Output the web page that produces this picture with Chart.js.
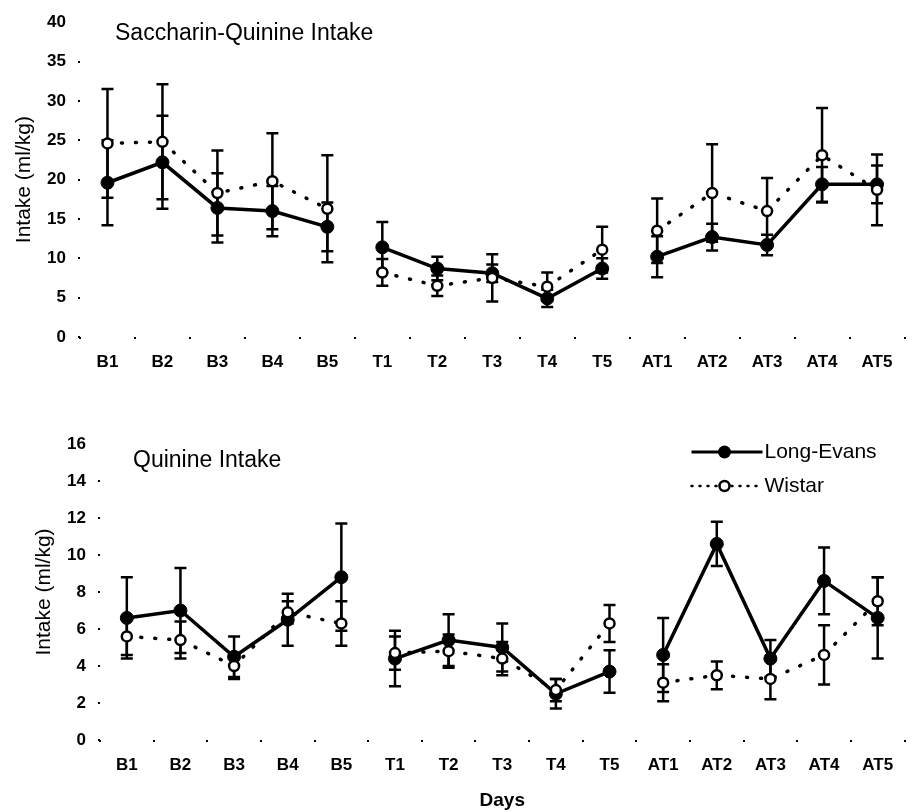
<!DOCTYPE html>
<html>
<head>
<meta charset="utf-8">
<script src="https://cdn.jsdelivr.net/npm/chart.js@4.4.1/dist/chart.umd.min.js"></script>
<style>
  html, body { margin: 0; padding: 0; background: #fff; overflow: hidden; }
  .panel { position: absolute; left: 0; width: 912px; }
  #topPanel { top: 0; height: 390px; }
  #bottomPanel { top: 400px; height: 412px; }
</style>
</head>
<body>
<div class="panel" id="topPanel"><canvas id="sqChart"></canvas></div>
<div class="panel" id="bottomPanel"><canvas id="qChart"></canvas></div>
<script>
// days on the x axis
const days = ['B1','B2','B3','B4','B5','T1','T2','T3','T4','T5','AT1','AT2','AT3','AT4','AT5'];

// Saccharin-quinine intake (ml/kg), mean and error
const sqLongEvans    = [19.6, 22.2, 16.4, 16.0, 14.0, 11.4, 8.7, 8.1, 4.9, 8.7, 10.2, 12.7, 11.7, 19.4, 19.4];
const sqLongEvansErr = [5.4, 5.9, 4.4, 3.2, 3.1, 3.2, 1.5, 1.1, 1.1, 1.3, 2.6, 1.7, 1.3, 2.2, 2.4];
const sqWistar       = [24.6, 24.8, 18.3, 19.8, 16.3, 8.2, 6.5, 7.5, 6.4, 11.1, 13.5, 18.3, 16.0, 23.1, 18.7];
const sqWistarErr    = [6.9, 7.3, 5.4, 6.1, 6.8, 1.7, 1.3, 3.0, 1.8, 2.9, 4.1, 6.2, 4.2, 6.0, 4.5];

// Quinine intake (ml/kg), mean and error
const qLongEvans    = [6.6, 7.0, 4.5, 6.5, 8.8, 4.4, 5.4, 5.0, 2.5, 3.7, 4.6, 10.6, 4.4, 8.6, 6.6];
const qLongEvansErr = [2.2, 2.3, 1.1, 1.4, 2.9, 1.5, 1.4, 1.3, 0.8, 1.15, 2.0, 1.2, 1.0, 1.8, 2.2];
const qWistar       = [5.6, 5.4, 4.0, 6.9, 6.3, 4.7, 4.8, 4.4, 2.7, 6.3, 3.1, 3.5, 3.3, 4.6, 7.5];
const qWistarErr    = [1.0, 1.0, 0.7, 0.6, 1.2, 0.9, 0.9, 0.9, 0.6, 1.0, 1.0, 0.75, 1.1, 1.6, 1.3];

// phase breaks: no line drawn after these indexes (B5 -> T1, T5 -> AT1)
const phaseBreaks = [4, 9];

const FONT = "'Liberation Sans', Arial, Helvetica, sans-serif";

// vertical error bars with caps, drawn under the markers
const errorBars = {
  id: 'errorBars',
  beforeDatasetsDraw(chart) {
    const ctx = chart.ctx, y = chart.scales.y;
    chart.data.datasets.forEach((ds, di) => {
      const meta = chart.getDatasetMeta(di);
      ctx.save();
      ctx.strokeStyle = '#000';
      ctx.lineWidth = 2.5;
      meta.data.forEach((pt, i) => {
        const v = ds.data[i], e = ds.errors[i];
        const yHi = y.getPixelForValue(v + e), yLo = y.getPixelForValue(v - e);
        ctx.beginPath();
        ctx.moveTo(pt.x, yHi); ctx.lineTo(pt.x, yLo);
        ctx.moveTo(pt.x - 6, yHi); ctx.lineTo(pt.x + 6, yHi);
        ctx.moveTo(pt.x - 6, yLo); ctx.lineTo(pt.x + 6, yLo);
        ctx.stroke();
      });
      ctx.restore();
    });
  }
};

// panel title inside the plot + optional legend
const panelText = {
  id: 'panelText',
  afterDraw(chart, args, opts) {
    const ctx = chart.ctx, a = chart.chartArea;
    ctx.save();
    ctx.fillStyle = '#000';
    ctx.textBaseline = 'middle';
    ctx.font = '23px ' + FONT;
    ctx.fillText(opts.title, a.left + opts.titleDx, a.top + opts.titleDy);
    if (opts.legend) {
      const x0 = a.right - 213, x1 = a.right - 142, xm = a.right - 180;
      const rows = [
        { label: 'Long-Evans', y: a.top + 8, dash: [], filled: true },
        { label: 'Wistar', y: a.top + 42, dash: [1, 7], filled: false }
      ];
      rows.forEach(r => {
        ctx.strokeStyle = '#000';
        ctx.lineWidth = r.filled ? 3 : 2.5;
        ctx.lineCap = r.filled ? 'butt' : 'round';
        ctx.setLineDash(r.dash);
        ctx.beginPath(); ctx.moveTo(x0, r.y); ctx.lineTo(x1, r.y); ctx.stroke();
        ctx.setLineDash([]);
        ctx.beginPath();
        ctx.arc(xm, r.y, r.filled ? 6.5 : 5, 0, Math.PI * 2);
        if (r.filled) { ctx.fillStyle = '#000'; ctx.fill(); }
        else { ctx.fillStyle = '#fff'; ctx.fill(); ctx.lineWidth = 2.5; ctx.stroke(); }
        ctx.fillStyle = '#000';
        ctx.font = '21px ' + FONT;
        ctx.fillText(r.label, x1 + 2, r.y);
      });
    }
    ctx.restore();
  }
};

function makeChart(id, le, leErr, w, wErr, yMax, yStep, yWidth, xHeight, padTop, textOpts, showDays) {
  const gap = c => phaseBreaks.includes(c.p0DataIndex) ? 'transparent' : undefined;
  return new Chart(document.getElementById(id), {
    type: 'line',
    data: {
      labels: days,
      datasets: [
        {
          label: 'Wistar',
          data: w, errors: wErr,
          borderColor: '#000', borderWidth: 3.5, borderDash: [1, 13], borderCapStyle: 'round',
          pointRadius: 5, pointBorderWidth: 2.5, pointBackgroundColor: '#fff', pointBorderColor: '#000',
          tension: 0, fill: false,
          segment: { borderColor: gap }
        },
        {
          label: 'Long-Evans',
          data: le, errors: leErr,
          borderColor: '#000', borderWidth: 3.5,
          pointRadius: 6.5, pointBorderWidth: 1, pointBackgroundColor: '#000', pointBorderColor: '#000',
          tension: 0, fill: false,
          segment: { borderColor: gap }
        }
      ]
    },
    options: {
      responsive: true,
      maintainAspectRatio: false,
      animation: false,
      layout: { padding: { top: padTop, right: 0, bottom: 0, left: 0 } },
      plugins: { legend: { display: false }, tooltip: { enabled: false }, panelText: textOpts },
      scales: {
        x: {
          type: 'category',
          offset: true,
          grid: { offset: true, drawOnChartArea: false, tickLength: 2, lineWidth: 2, color: '#000' },
          border: { display: false },
          ticks: { color: '#000', font: { family: FONT, size: 17, weight: 'bold' }, padding: 13, maxRotation: 0, autoSkip: false },
          title: { display: showDays, text: 'Days', color: '#000', font: { family: FONT, size: 19, weight: 'bold' }, padding: { top: 0, bottom: 0 } },
          afterFit: s => { s.height = xHeight; }
        },
        y: {
          min: 0, max: yMax,
          grid: {
            drawOnChartArea: false, tickLength: 2, lineWidth: 2,
            color: c => (c.tick && c.tick.value === yMax) ? 'transparent' : '#000'
          },
          border: { display: false },
          ticks: { stepSize: yStep, color: '#000', font: { family: FONT, size: 17, weight: 'bold' }, padding: 12 },
          title: { display: true, text: 'Intake (ml/kg)', color: '#000', font: { family: FONT, size: 21 }, padding: { top: yWidth - 68, bottom: 0 } },
          afterFit: s => { s.width = yWidth; }
        }
      }
    },
    plugins: [errorBars, panelText]
  });
}

makeChart('sqChart', sqLongEvans, sqLongEvansErr, sqWistar, sqWistarErr, 40, 5, 80, 53, 22,
  { title: 'Saccharin-Quinine Intake', titleDx: 35, titleDy: 11, legend: false }, false);

makeChart('qChart', qLongEvans, qLongEvansErr, qWistar, qWistarErr, 16, 2, 100, 72, 44,
  { title: 'Quinine Intake', titleDx: 33, titleDy: 17, legend: true }, true);
</script>
</body>
</html>
